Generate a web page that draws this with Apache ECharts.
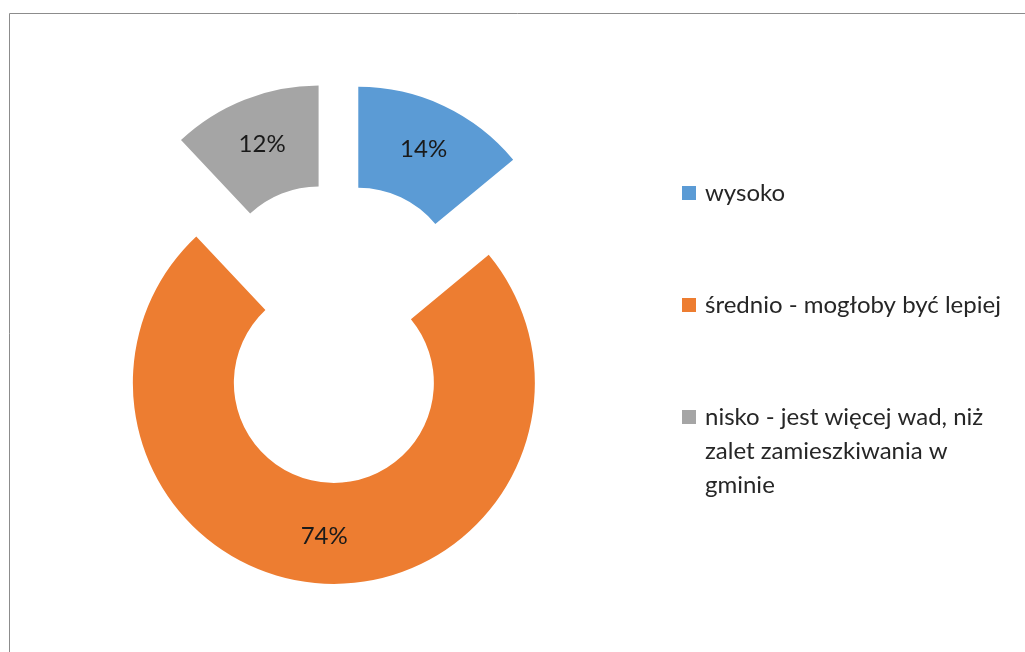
<!DOCTYPE html>
<html>
<head>
<meta charset="utf-8">
<script src="https://cdn.jsdelivr.net/npm/echarts@6/dist/echarts.min.js"></script>
<style>
html,body{margin:0;padding:0;background:#fff;}
#chart{width:1025px;height:652px;}
</style>
</head>
<body>
<div id="chart"></div>
<script>
const categories = ['wysoko', 'średnio - mogłoby być lepiej', 'nisko - jest więcej wad, niż zalet zamieszkiwania w gminie'];
const values = [14, 74, 12];
const colors = ['#5B9BD5', '#ED7D31', '#A5A5A5'];
const legendLines = [
  ['wysoko'],
  ['średnio - mogłoby być lepiej'],
  ['nisko - jest więcej wad, niż', 'zalet zamieszkiwania w', 'gminie']
];

const FONT = 'Lato';
const chart = echarts.init(document.getElementById('chart'), null, {renderer: 'canvas'});

const legendCenters = [193, 305, 417];
const LH = 34;
const legends = categories.map(function (name, i) {
  const lines = legendLines[i];
  const extra = lines.length - 1;
  const blanks = new Array(extra + 1).join('\n');
  const blockH = (lines.length + extra) * LH;
  return {
    data: [name],
    orient: 'vertical',
    left: 682,
    top: legendCenters[i] - blockH / 2,
    padding: 0,
    itemWidth: 14,
    itemHeight: 14,
    itemGap: 0,
    icon: 'rect',
    selectedMode: false,
    formatter: function () { return blanks + lines.join('\n'); },
    textStyle: {fontFamily: FONT, fontSize: 24, color: '#262626', lineHeight: LH, padding: [0, 0, 0, 4]}
  };
});

chart.setOption({
  animation: false,
  color: colors,
  legend: legends,
  graphic: [{
    type: 'rect',
    shape: {x: 9.5, y: 13.5, width: 1100, height: 700},
    style: {fill: 'none', stroke: '#8c8c8c', lineWidth: 1},
    silent: true
  }],
  series: [{
    type: 'pie',
    center: [337, 333],
    radius: [100, 201],
    startAngle: 90,
    clockwise: true,
    selectedMode: 'multiple',
    selectedOffset: 50,
    avoidLabelOverlap: false,
    emphasis: {disabled: true, scale: false},
    select: {itemStyle: {borderWidth: 0}},
    itemStyle: {borderWidth: 0},
    label: {
      show: true,
      position: 'inside',
      formatter: '{d}%',
      fontFamily: FONT,
      fontSize: 24,
      color: '#1a1a1a'
    },
    labelLine: {show: false},
    data: categories.map(function (c, i) {
      return {name: c, value: values[i], selected: true};
    })
  }]
});
</script>
</body>
</html>
